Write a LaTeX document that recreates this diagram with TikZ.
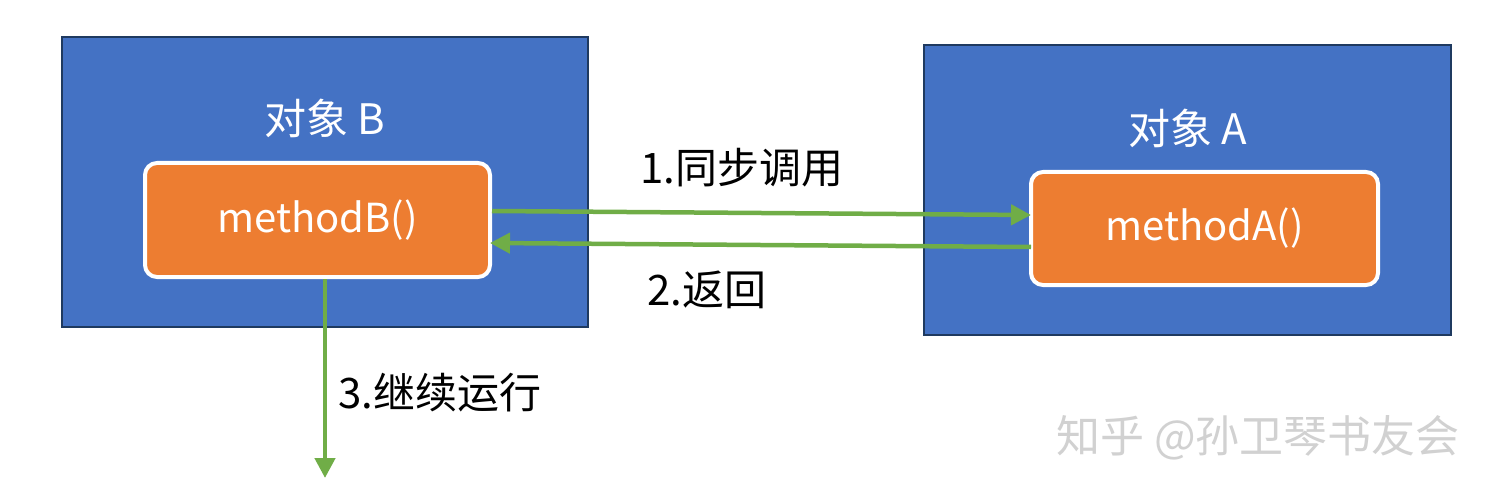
\documentclass[tikz,border=0pt]{standalone}
\usepackage{fontspec}
\setmainfont{Noto Sans CJK SC}
\usetikzlibrary{arrows.meta}
\definecolor{bluef}{HTML}{4472C4}
\definecolor{blued}{HTML}{1F3A60}
\definecolor{oran}{HTML}{ED7D31}
\definecolor{grn}{HTML}{70AD47}
\tikzset{
 obj/.style={draw=blued,line width=2.5pt,fill=bluef},
 meth/.style={draw=white,line width=4pt,fill=oran,rounded corners=12pt,text=white,font=\fontsize{40}{42}\selectfont},
 lbl/.style={font=\fontsize{42}{44}\selectfont},
 arr/.style={draw=grn,line width=4.5pt,-{Triangle[length=20pt,width=20pt]}}
}
\begin{document}
\begin{tikzpicture}[x=1pt,y=-1pt]
\useasboundingbox (0,0) rectangle (1500,500);
\fill[white] (0,0) rectangle (1500,500);
\draw[obj] (62,37) rectangle (588,327);
\draw[obj] (924,45) rectangle (1451,335);
\node[lbl,text=white] (tb) at (325,118) {对象 B};
\node[lbl,text=white] (ta) at (1188,128) {对象 A};
\node[meth,minimum width=345pt,minimum height=114pt] (mb) at (317.5,220) {methodB()};
\node[meth,minimum width=347pt,minimum height=113pt] (ma) at (1204.5,228.5) {methodA()};
\coordinate (a1s) at (492,211);
\coordinate (a1e) at (1031,215);
\coordinate (a2s) at (1031,247);
\coordinate (a2e) at (490,243);
\coordinate (a3s) at (325,279);
\coordinate (a3e) at (325,478);
\draw[arr] (a1s) -- (a1e);
\draw[arr] (a2s) -- (a2e);
\draw[arr] (a3s) -- (a3e);
\node[lbl] (l1) at (742,168) {1.同步调用};
\node[lbl] (l2) at (707,290) {2.返回};
\node[lbl] (l3) at (440,393) {3.继续运行};
\node[font=\fontsize{44}{46}\selectfont,text=black!18] (wm) at (1258,438) {知乎 @孙卫琴书友会};
\end{tikzpicture}
\end{document}
